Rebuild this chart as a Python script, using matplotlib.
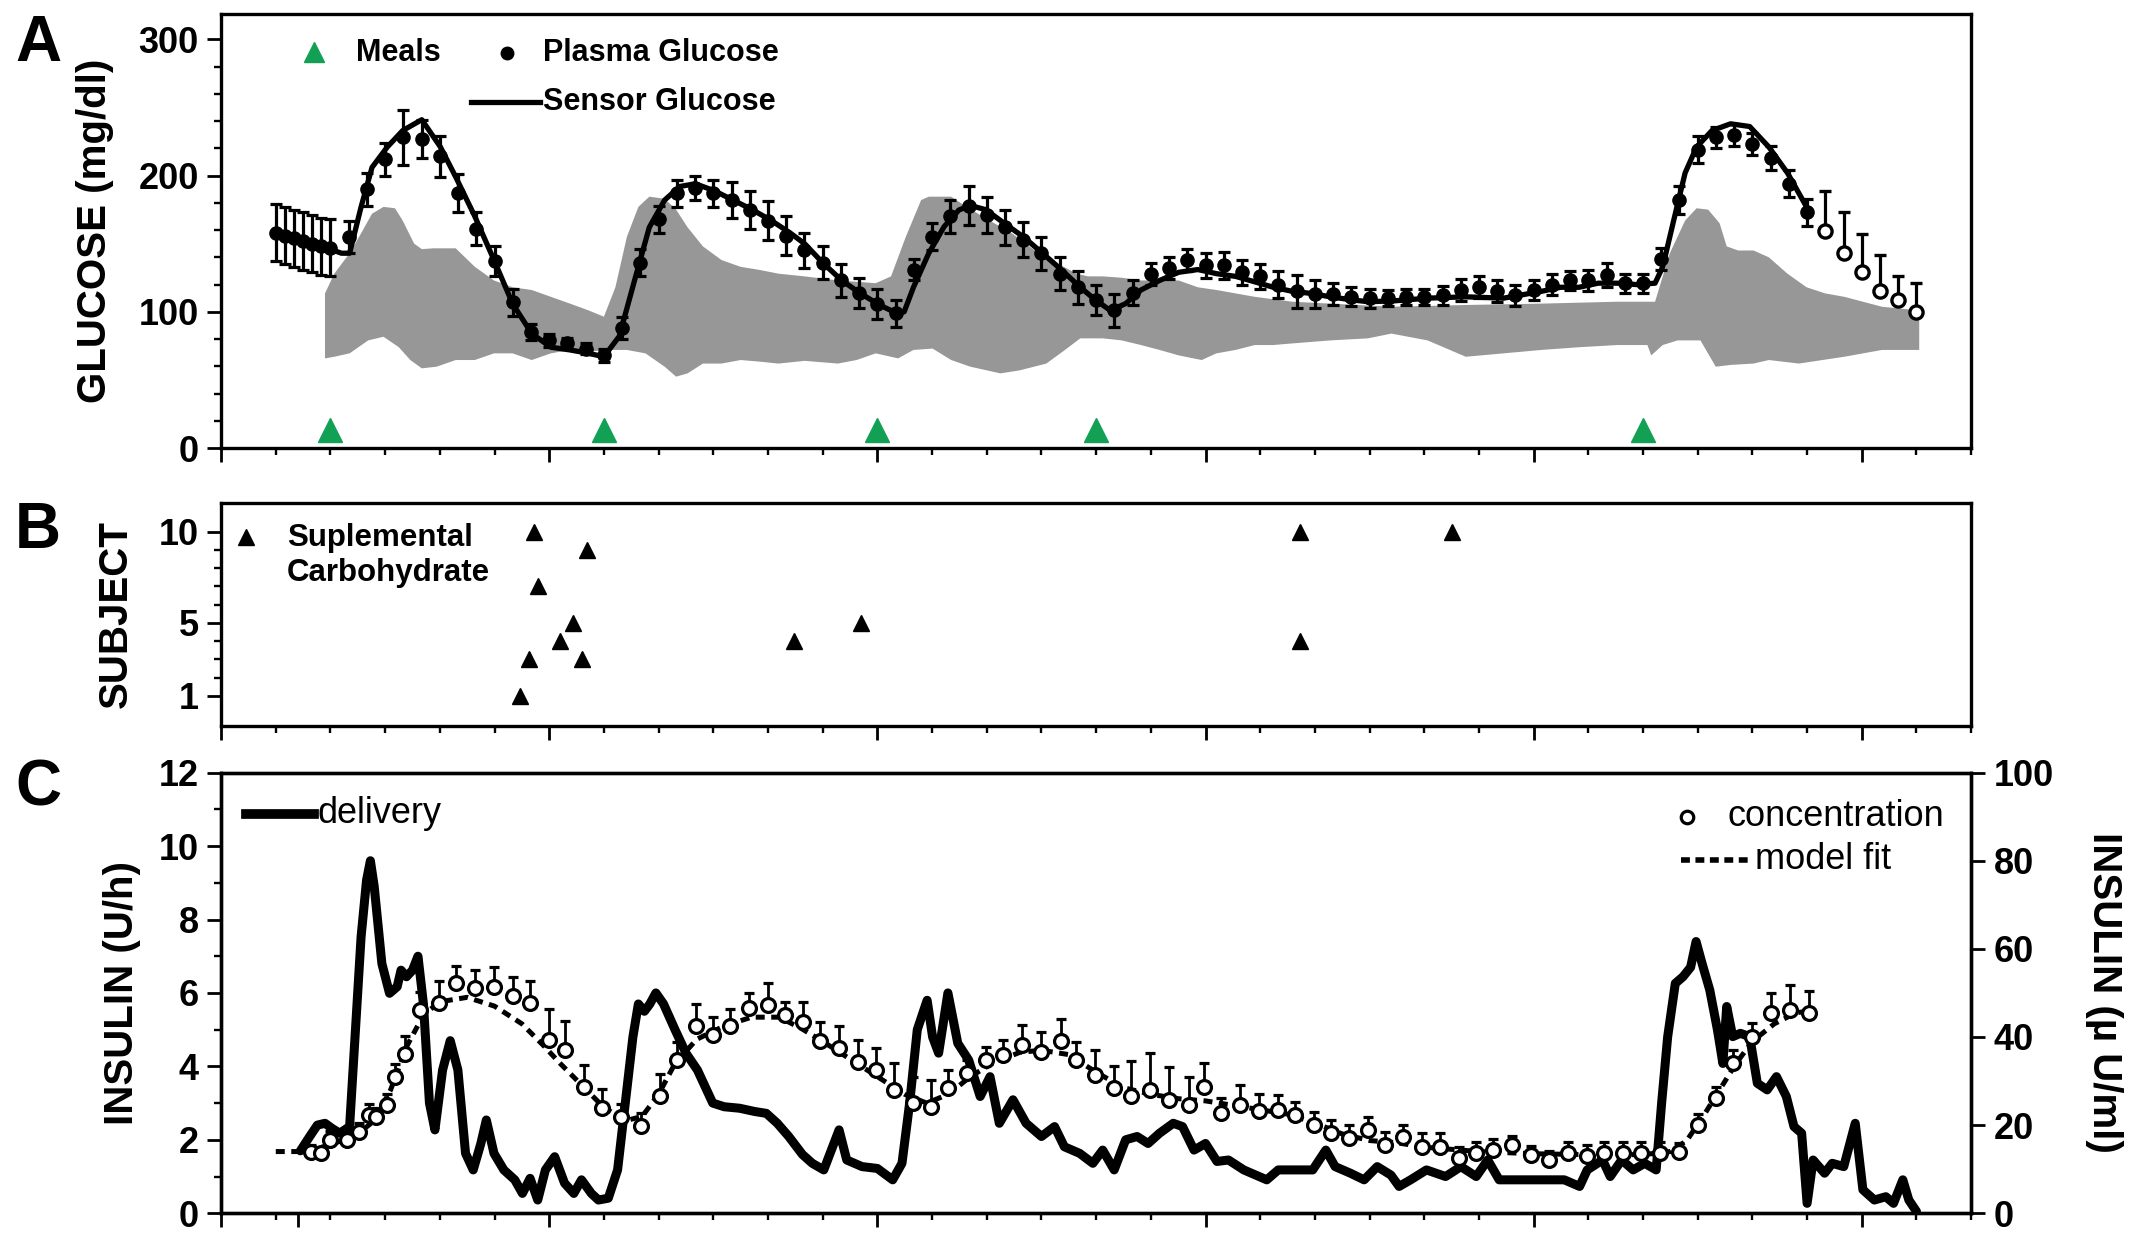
import numpy as np
import matplotlib.pyplot as plt
from matplotlib.ticker import MultipleLocator, FixedLocator, NullFormatter

plt.rcParams['font.family'] = ['Liberation Sans', 'DejaVu Sans']
plt.rcParams['font.weight'] = 'bold'

# ---------------- panel A : glucose (hours from start) ----------------
meal_t = [2, 7, 12, 16, 26]
meal_y = [13, 13, 13, 13, 13]

# plasma glucose: every 10 min for the first hour, then every 20 min
pg_t = np.r_[np.arange(6, 13) / 6, np.arange(7, 94) / 3]
pg_g = [158, 156, 154, 152, 150, 148, 147,
        155, 190, 212, 228, 227, 214, 187, 161, 137, 107, 85, 79,
        77, 73, 68, 88, 136, 168, 187, 191, 187, 182, 175, 167,
        156, 145, 136, 123, 114, 106, 99, 131, 155, 170, 178, 171,
        162, 153, 143, 128, 118, 109, 101, 114, 128, 132, 138, 134,
        134, 129, 126, 120, 115, 113, 113, 111, 110, 110, 111, 111,
        112, 116, 118, 115, 112, 116, 120, 123, 123, 127, 121, 121,
        139, 182, 219, 228, 230, 223, 213, 194, 173, 159, 143, 129,
        115, 109, 100]
pg_se = [21, 21, 21, 21, 21, 21, 21,
         12, 12, 12, 20, 14, 15, 14, 12, 11, 10, 6, 5,
         4, 4, 5, 8, 10, 10, 10, 9, 10, 13, 14, 14,
         14, 13, 12, 12, 11, 11, 10, 8, 10, 12, 14, 13,
         13, 13, 12, 12, 12, 11, 12, 9, 8, 8, 8, 9,
         10, 9, 9, 10, 12, 10, 8, 7, 7, 6, 6, 6,
         7, 8, 8, 8, 8, 7, 8, 7, 8, 9, 7, 7,
         8, 10, 10, 8, 8, 8, 9, 10, 10, 30, 30, 28,
         27, 17, 21]
n_open = 6

sensor_t = [2.0, 2.2, 2.35, 2.56, 2.76, 3.04, 3.32, 3.67, 4.01, 4.29,
            4.64, 4.99, 5.33, 5.68, 6.03, 6.38, 6.72, 7.0, 7.28, 7.56,
            7.83, 8.11, 8.39, 8.67, 9.01, 9.36, 9.71, 10.06, 10.4, 10.67,
            11.0, 11.35, 11.69, 12.04, 12.35, 12.49, 12.66, 12.94, 13.22, 13.49,
            13.7, 13.98, 14.32, 14.67, 15.02, 15.36, 15.71, 15.99, 16.26, 16.54,
            16.82, 17.16, 17.51, 17.86, 18.2, 18.55, 18.9, 19.24, 19.59, 19.93,
            20.28, 20.63, 20.97, 21.44, 22.06, 22.76, 23.45, 24.14, 24.49, 24.83,
            25.18, 25.53, 25.87, 26.22, 26.36, 26.56, 26.77, 26.98, 27.26, 27.6,
            27.95, 28.3, 28.64, 28.99]
sensor_g = [146, 143, 143, 177, 206, 221, 233, 241, 221, 199,
            170, 138, 106, 84, 74, 72, 69.5, 67, 82, 123,
            162, 182, 192, 194, 189, 182, 175, 167, 158, 150,
            136, 123, 113.5, 105, 99, 100, 118, 143, 162.5, 174.7,
            178, 175, 165, 155, 143, 131, 118, 108.6, 101, 106,
            116, 123, 129, 131, 128, 126, 122, 118, 115, 113.5,
            111, 109, 107.4, 108, 110, 111, 110, 115, 118, 118,
            121, 121, 120, 121, 133, 167, 202, 221, 233, 238,
            236, 221, 202, 177]

# grey range band (upper and lower edge)
band_hi_t = [1.9, 2.07, 2.35, 2.56, 2.76, 2.97, 3.18, 3.32, 3.53, 3.67,
             3.88, 4.29, 4.64, 4.99, 5.33, 5.68, 6.03, 6.38, 6.72, 7.0,
             7.21, 7.42, 7.63, 7.83, 8.11, 8.32, 8.53, 8.81, 9.15, 9.5,
             9.85, 10.19, 10.67, 11.28, 11.97, 12.25, 12.52, 12.8, 12.94, 13.35,
             13.63, 14.05, 14.46, 14.88, 15.29, 15.64, 15.85, 16.12, 16.47, 16.82,
             17.16, 17.51, 17.86, 18.2, 18.55, 18.9, 19.59, 20.28, 21.4, 22.76,
             24.14, 25.53, 26.22, 26.49, 26.77, 26.98, 27.19, 27.4, 27.53, 27.74,
             28.02, 28.3, 28.64, 28.99, 29.33, 29.68, 30.37, 31.05]
band_hi_g = [113.5, 128, 143, 157.6, 172, 177, 176, 167, 150, 146,
             146.6, 146.6, 133, 123, 118, 116, 111, 106, 101, 96.4,
             118, 155, 177, 184.5, 183, 175, 162, 148, 138, 133,
             130.7, 128, 126, 123, 121, 126, 155, 182, 184.5, 184.5,
             177, 167, 157.6, 145, 135.6, 128, 126, 126, 125, 123,
             123, 123, 118, 116, 113.5, 111, 107.4, 106, 103.7, 105,
             106, 107.4, 107.4, 143, 167, 176, 175, 165, 148, 145,
             145, 140, 128, 118, 113.5, 111, 103.7, 101]
band_lo_t = [1.9, 2.07, 2.35, 2.69, 2.97, 3.25, 3.46, 3.67, 3.94, 4.29,
             4.64, 4.99, 5.33, 5.68, 6.03, 6.38, 6.72, 7.07, 7.42, 7.76,
             8.11, 8.32, 8.53, 8.81, 9.15, 9.5, 9.85, 10.19, 10.67, 11.28,
             11.62, 11.97, 12.38, 12.66, 13.01, 13.35, 13.7, 14.25, 14.6, 15.09,
             15.43, 15.71, 16.12, 16.47, 16.82, 17.16, 17.51, 17.93, 18.2, 18.55,
             18.9, 19.24, 19.59, 20.28, 20.97, 21.4, 22.06, 22.76, 23.45, 24.14,
             24.83, 25.53, 26.08, 26.15, 26.36, 26.63, 27.05, 27.33, 27.6, 28.02,
             28.3, 28.85, 29.68, 30.37, 31.05]
band_lo_g = [65.8, 67, 69.5, 79, 81.7, 74, 64.6, 58.5, 59.7, 64.6,
             64.6, 69.5, 69.5, 64.6, 69.5, 72, 70.7, 72, 72, 69.5,
             59.7, 52.4, 54.8, 62, 62, 64.6, 63.4, 62, 64, 62,
             64.6, 69.5, 65.8, 72, 73, 64.6, 59.7, 54.8, 57, 62,
             72, 80.5, 80.5, 79, 75.6, 72, 68, 64.6, 69.5, 72,
             75.6, 75.6, 76.8, 79, 80.5, 84, 79, 67, 69.5, 72,
             74, 75.6, 75.6, 68, 75.6, 79, 79, 59.7, 61, 62,
             64.6, 62, 67, 72, 72]

# ---------------- panel B : supplemental carbohydrate ----------------
carb_t = [5.47, 5.63, 5.72, 5.79, 6.19, 6.44, 6.6, 6.69, 10.47, 11.7, 19.72, 19.72, 22.5]
carb_subj = [1, 3, 10, 7, 4, 5, 3, 9, 4, 5, 10, 4, 10]

# ---------------- panel C : insulin ----------------
ins_t = [1.45, 1.62, 1.76, 1.9, 2.03, 2.17, 2.35, 2.45, 2.56, 2.66,
         2.73, 2.8, 2.94, 3.08, 3.22, 3.29, 3.39, 3.5, 3.6, 3.7,
         3.81, 3.91, 4.05, 4.19, 4.33, 4.47, 4.61, 4.75, 4.85, 4.99,
         5.17, 5.37, 5.51, 5.65, 5.79, 5.93, 6.1, 6.28, 6.45, 6.59,
         6.77, 6.9, 7.08, 7.25, 7.39, 7.53, 7.63, 7.74, 7.84, 7.95,
         8.09, 8.3, 8.5, 8.71, 8.85, 8.99, 9.2, 9.48, 9.76, 9.97,
         10.17, 10.38, 10.63, 10.81, 11.02, 11.3, 11.44, 11.72, 12.0, 12.28,
         12.45, 12.59, 12.73, 12.91, 13.01, 13.12, 13.29, 13.47, 13.67, 13.88,
         14.06, 14.23, 14.48, 14.72, 15.0, 15.24, 15.42, 15.7, 15.94, 16.12,
         16.33, 16.54, 16.75, 16.95, 17.16, 17.41, 17.58, 17.79, 18.0, 18.21,
         18.42, 18.7, 19.12, 19.33, 19.61, 19.96, 20.2, 20.37, 20.65, 20.9,
         21.14, 21.39, 21.54, 21.75, 22.04, 22.39, 22.67, 22.95, 23.16, 23.37,
         23.72, 24.14, 24.56, 24.84, 24.98, 25.26, 25.4, 25.61, 25.82, 26.03,
         26.24, 26.34, 26.45, 26.59, 26.73, 26.87, 26.97, 27.08, 27.22, 27.36,
         27.46, 27.53, 27.64, 27.78, 27.95, 28.09, 28.27, 28.44, 28.62, 28.76,
         28.9, 29.0, 29.11, 29.32, 29.46, 29.67, 29.88, 30.02, 30.23, 30.44,
         30.58, 30.75, 30.86, 31.0]
ins_u = [1.7, 2.09, 2.4, 2.45, 2.31, 2.18, 2.36, 4.8, 7.53, 9.07,
         9.6, 8.9, 6.8, 5.99, 6.17, 6.62, 6.44, 6.62, 7.0, 5.7,
         3.0, 2.27, 3.9, 4.7, 3.9, 1.63, 1.18, 1.9, 2.54, 1.63,
         1.18, 0.91, 0.54, 0.95, 0.36, 1.18, 1.54, 0.82, 0.54, 0.91,
         0.54, 0.36, 0.41, 1.18, 3.0, 4.8, 5.7, 5.5, 5.7, 6.0,
         5.7, 5.0, 4.36, 3.9, 3.45, 3.0, 2.9, 2.86, 2.77, 2.72,
         2.45, 2.09, 1.6, 1.36, 1.18, 2.27, 1.45, 1.27, 1.22, 0.91,
         1.36, 3.0, 5.0, 5.8, 4.8, 4.36, 6.0, 4.63, 4.17, 3.18,
         3.72, 2.45, 3.09, 2.45, 2.09, 2.36, 1.81, 1.63, 1.36, 1.72,
         1.18, 2.0, 2.09, 1.9, 2.18, 2.45, 2.36, 1.72, 1.9, 1.41,
         1.45, 1.18, 0.91, 1.18, 1.18, 1.18, 1.72, 1.27, 1.09, 0.91,
         1.27, 1.04, 0.73, 0.91, 1.18, 1.0, 1.27, 1.0, 1.45, 0.91,
         0.91, 0.91, 0.91, 0.73, 1.18, 1.45, 1.0, 1.45, 1.18, 1.36,
         1.18, 3.0, 4.8, 6.26, 6.44, 6.7, 7.4, 6.8, 6.08, 5.0,
         4.08, 5.63, 4.81, 4.9, 4.81, 3.54, 3.36, 3.72, 3.18, 2.36,
         2.18, 0.27, 1.45, 1.09, 1.36, 1.27, 2.45, 0.64, 0.36, 0.45,
         0.27, 0.91, 0.36, 0.05]

conc_t = [1.65, 1.83, 2.0, 2.31, 2.52, 2.7, 2.83, 3.04, 3.18, 3.36,
          3.63, 3.98, 4.3, 4.64, 4.99, 5.34, 5.65, 6.0, 6.28, 6.63,
          6.97, 7.32, 7.67, 8.02, 8.33, 8.68, 8.99, 9.3, 9.65, 10.0,
          10.31, 10.64, 10.95, 11.3, 11.65, 11.97, 12.31, 12.66, 12.98, 13.29,
          13.64, 13.99, 14.3, 14.65, 15.0, 15.35, 15.63, 15.98, 16.33, 16.64,
          16.99, 17.34, 17.69, 17.97, 18.28, 18.63, 18.98, 19.33, 19.64, 19.99,
          20.3, 20.62, 20.97, 21.28, 21.61, 21.96, 22.28, 22.63, 22.95, 23.26,
          23.61, 23.96, 24.28, 24.63, 24.98, 25.29, 25.64, 25.96, 26.31, 26.66,
          27.01, 27.33, 27.64, 27.99, 28.34, 28.69, 29.04]
conc_v = [14.0, 13.6, 16.6, 16.6, 18.5, 22.3, 21.9, 24.5, 30.9, 36.2,
          46.1, 47.7, 52.2, 51.1, 51.4, 49.2, 47.7, 39.3, 37.1, 28.7,
          23.8, 21.9, 19.7, 26.5, 34.8, 42.4, 40.5, 42.4, 46.5, 47.3,
          45.0, 43.5, 39.0, 37.4, 34.4, 32.5, 28.0, 25.0, 24.2, 28.4,
          31.8, 34.8, 35.9, 38.2, 36.7, 39.0, 34.8, 31.4, 28.4, 26.5,
          28.0, 25.7, 24.6, 28.7, 22.7, 24.6, 23.1, 23.4, 22.3, 20.0,
          18.2, 17.0, 18.9, 15.5, 17.4, 15.1, 15.1, 12.5, 13.6, 14.4,
          15.5, 13.2, 12.1, 13.6, 12.9, 13.6, 13.6, 13.6, 13.6, 14.0,
          20.0, 26.1, 34.0, 40.1, 45.4, 46.1, 45.4]
conc_err = [1.5, 1.5, 2, 2, 2, 2.6, 2, 2.5, 3, 4,
            4, 5, 4, 4, 4.5, 4.5, 5, 7, 6.5, 5,
            4.5, 3, 3, 5, 4, 5, 4, 4, 3.4, 5,
            3, 4.5, 4.5, 5, 5, 5, 6, 6, 6, 4,
            3, 3, 3.5, 4.5, 4.5, 5, 4, 5.7, 5, 8,
            8.3, 7.5, 6.4, 5.3, 3.5, 4.5, 4, 3.5, 3, 3,
            3, 3, 3, 3, 2.6, 3, 3, 2.5, 2.5, 2.5,
            2, 2, 2, 2.5, 2.5, 2.5, 2.5, 2.5, 2.5, 2,
            2.5, 2.5, 3, 3, 4.5, 5.7, 5]

model_t = [1.0, 1.5, 2.0, 2.5, 2.8, 3.1, 3.4, 3.7, 4.0, 4.5,
           5.0, 5.5, 5.9, 6.2, 6.6, 7.0, 7.4, 7.7, 8.0, 8.3,
           8.7, 9.2, 9.7, 10.2, 10.6, 11.0, 11.5, 12.0, 12.5, 12.9,
           13.3, 13.7, 14.1, 14.6, 15.0, 15.5, 16.0, 16.5, 17.0, 17.5,
           18.0, 18.5, 19.0, 19.5, 20.0, 20.5, 21.0, 21.5, 22.0, 23.0,
           24.0, 25.0, 26.0, 26.5, 26.8, 27.1, 27.4, 27.7, 28.0, 28.4,
           28.8, 29.1]
model_v = [14, 14, 15.5, 18, 21, 28, 38, 45, 48, 49,
           47, 43, 38, 34, 29, 24, 21, 22, 27, 34,
           39.5, 42.5, 44.5, 44.5, 42, 39, 35, 31, 27, 25,
           27, 31, 34, 36.5, 37, 36, 32, 28.5, 27, 26,
           25.5, 24.5, 23.5, 22.5, 20.5, 18, 16.5, 16, 15, 14,
           13.5, 13.3, 13.3, 14, 16.5, 22, 28, 34, 39, 43,
           45.5, 46]

GREEN = '#12a055'
GREY = '#979797'
TICK = 26


def style(ax, xmajor=None):
    ax.set_xlim(0, 32)
    if xmajor is None:
        ax.xaxis.set_major_locator(MultipleLocator(6))
    else:
        ax.xaxis.set_major_locator(FixedLocator(xmajor))
    ax.xaxis.set_minor_locator(MultipleLocator(1))
    ax.xaxis.set_major_formatter(NullFormatter())
    ax.tick_params(which='major', direction='out', length=10, width=2,
                   labelsize=TICK, pad=6)
    ax.tick_params(which='minor', direction='out', length=5, width=1.7)
    for s in ax.spines.values():
        s.set_linewidth(2.4)


fig = plt.figure(figsize=(21.34, 12.38), dpi=100)
L, W = 0.1036, 0.8201
axA = fig.add_axes([L, 0.6381, W, 0.3506])
axB = fig.add_axes([L, 0.4136, W, 0.1801])
axC = fig.add_axes([L, 0.0200, W, 0.3559])

# ---- A ----
style(axA)
axA.set_ylim(0, 318.6)
axA.yaxis.set_major_locator(MultipleLocator(100))
axA.yaxis.set_minor_locator(MultipleLocator(20))
axA.fill(np.r_[band_hi_t, band_lo_t[::-1]], np.r_[band_hi_g, band_lo_g[::-1]],
         color=GREY, lw=0, zorder=1)
pg_t = np.asarray(pg_t)
pg_g = np.asarray(pg_g, float)
pg_se = np.asarray(pg_se, float)
axA.errorbar(pg_t[:-n_open], pg_g[:-n_open], yerr=pg_se[:-n_open], fmt='o',
             color='black', ms=9.5, capsize=4.5, elinewidth=2.3, capthick=2.3, zorder=3)
axA.errorbar(pg_t[-n_open:], pg_g[-n_open:],
             yerr=[np.zeros(n_open), pg_se[-n_open:]], fmt='o', color='black',
             mfc='white', mec='black', mew=2.4, ms=9.5, capsize=4.5, elinewidth=2.3,
             capthick=2.3, zorder=3)
axA.plot(sensor_t, sensor_g, color='black', lw=3.8, zorder=4)
axA.plot(meal_t, meal_y, ls='none', marker='^', ms=17, color=GREEN, zorder=5)

# legend A
tA = axA.transAxes
axA.plot([0.053], [0.913], marker='^', ms=15, color=GREEN, transform=tA, clip_on=False)
axA.text(0.077, 0.911, 'Meals', transform=tA, fontsize=22, va='center', ha='left')
axA.plot([0.1634], [0.911], marker='o', ms=9, color='black', transform=tA)
axA.text(0.184, 0.911, 'Plasma Glucose', transform=tA, fontsize=22, va='center', ha='left')
axA.plot([0.1429, 0.182], [0.798, 0.798], color='black', lw=3.8, transform=tA)
axA.text(0.184, 0.798, 'Sensor Glucose', transform=tA, fontsize=22, va='center', ha='left')

# ---- B ----
style(axB)
axB.set_ylim(-0.64, 11.56)
axB.yaxis.set_major_locator(FixedLocator([1, 5, 10]))
axB.yaxis.set_minor_locator(FixedLocator(range(1, 11)))
axB.plot(carb_t, carb_subj, ls='none', marker='^', ms=11, color='black')
axB.plot([0.45], [9.72], marker='^', ms=11, color='black')
axB.text(1.2, 9.63, 'Suplemental', fontsize=22.5, va='center', ha='left')
axB.text(1.2, 7.72, 'Carbohydrate', fontsize=22.5, va='center', ha='left')

# ---- C ----
style(axC, xmajor=[0, 1.4, 6, 12, 18, 24, 30])
axC.set_ylim(0, 12)
axC.yaxis.set_major_locator(MultipleLocator(2))
axC.yaxis.set_minor_locator(MultipleLocator(1))
axC.plot(ins_t, ins_u, color='black', lw=6.5, solid_joinstyle='round',
         solid_capstyle='round', zorder=3)

axR = axC.twinx()
axR.set_ylim(0, 100)
axR.yaxis.set_major_locator(MultipleLocator(20))
axR.tick_params(which='major', direction='out', length=10, width=2,
                labelsize=TICK, pad=6)
for s in axR.spines.values():
    s.set_linewidth(2.4)
axR.plot(model_t, model_v, color='black', lw=3.6, ls=(0, (1.8, 1.3)), zorder=2)
conc_err = np.asarray(conc_err)
axR.errorbar(conc_t, conc_v, yerr=[np.zeros(len(conc_err)), conc_err], fmt='o',
             color='black', mfc='white', mec='black', mew=2.3, ms=10, capsize=3.8,
             elinewidth=2, capthick=2, zorder=4)

tC = axC.transAxes
axC.plot([0.0141, 0.0531], [0.907, 0.907], color='black', lw=7, transform=tC)
axC.text(0.055, 0.907, 'delivery', transform=tC, fontsize=26, fontweight='normal',
         va='center', ha='left')
axC.plot([0.8375], [0.9], marker='o', ms=9, mfc='white', mec='black', mew=2.3,
         transform=tC)
axC.text(0.861, 0.9, 'concentration', transform=tC, fontsize=26, fontweight='normal',
         va='center', ha='left')
axC.plot([0.834, 0.874], [0.802, 0.802], color='black', lw=4, ls=(0, (1.6, 1.0)),
         transform=tC)
axC.text(0.8766, 0.802, 'model fit', transform=tC, fontsize=26, fontweight='normal',
         va='center', ha='left')

# ---- labels ----
fig.text(0.0445, 0.8134, 'GLUCOSE (mg/dl)', rotation=90, fontsize=29,
         ha='center', va='center')
fig.text(0.0544, 0.504, 'SUBJECT', rotation=90, fontsize=29, ha='center', va='center')
fig.text(0.0572, 0.198, 'INSULIN (U/h)', rotation=90, fontsize=29,
         ha='center', va='center')
fig.text(0.986, 0.198, 'INSULIN (\u00b5 U/ml)', rotation=270, fontsize=29,
         ha='center', va='center')
for letter, y in [('A', 0.9645), ('B', 0.571), ('C', 0.3627)]:
    fig.text(0.0178, y, letter, fontsize=46, ha='center', va='center')

fig.savefig('out.png', dpi=100)
